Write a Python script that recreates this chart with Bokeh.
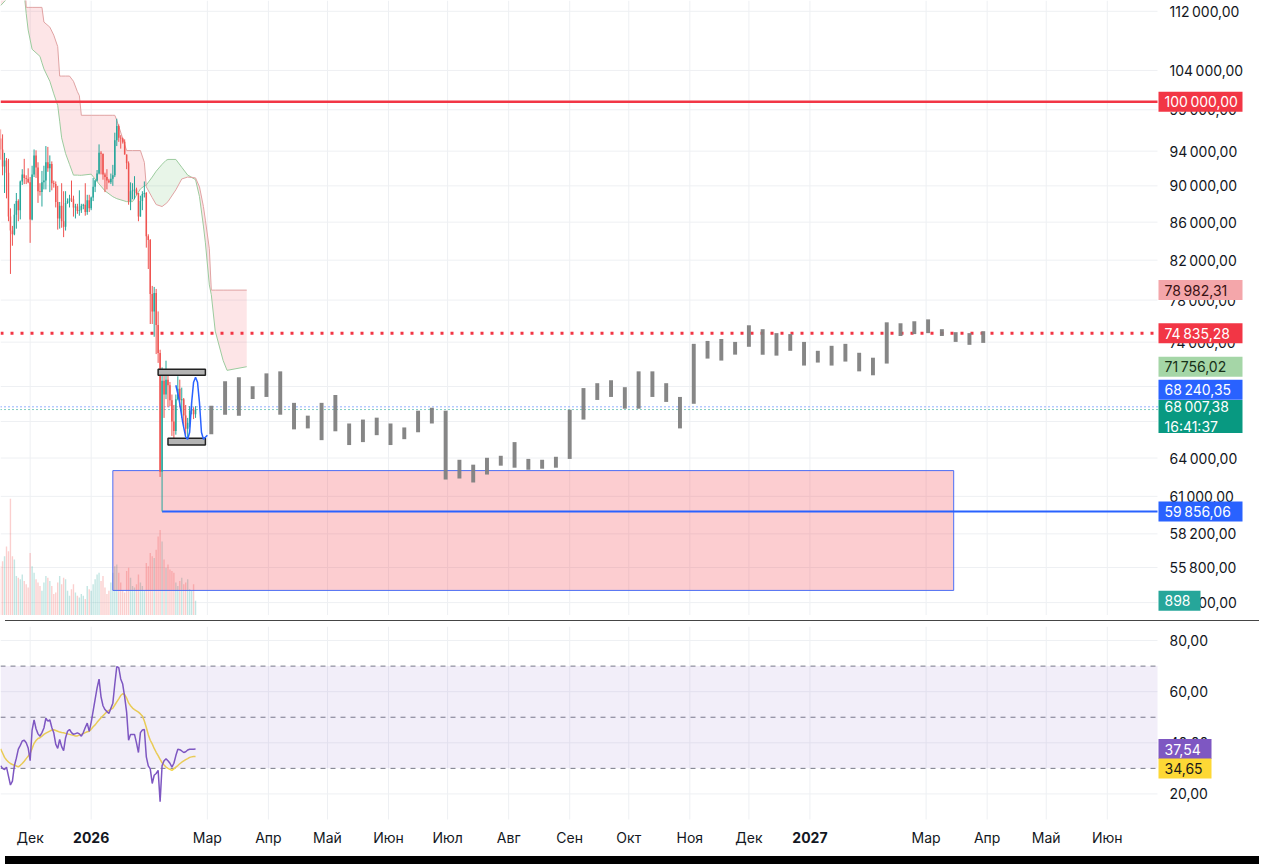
import numpy as np
import pandas as pd
from bokeh.plotting import figure
from bokeh.models import Range1d, LinearScale, BoxAnnotation, Div
from bokeh.layouts import column
from bokeh.core.properties import value
from bokeh.embed import file_html
from bokeh.resources import INLINE

ORIGIN = pd.Timestamp("2025-12-01")


def days(dates):
    if isinstance(dates, pd.DatetimeIndex):
        ts = dates
    else:
        ts = pd.to_datetime(list(dates), format="ISO8601")
    return np.asarray((ts - ORIGIN) / pd.Timedelta(days=1), dtype=float)


# ---------------- data ----------------
candle_dates = pd.date_range("2025-11-16", "2026-02-23", freq="D")
opens = [95.5, 94.2, 92.2, 92.9, 91.5, 86.6, 85.1, 84.7, 86.8, 88.3, 87.3, 90.5, 91.3, 90.9, 90.8,
         90.4, 86.3, 91.3, 93.5, 92.1, 89.4, 89.3, 90.4, 90.6, 92.7, 92.0, 92.5, 90.3, 90.2, 88.2,
         86.4, 87.8, 86.1, 85.5, 88.1, 88.3, 88.6, 88.5, 87.6, 87.7, 87.2, 87.3, 87.8, 87.9, 87.1, 88.4,
         87.5, 88.7, 89.9, 90.6, 91.4, 93.8, 93.7, 91.3, 91.0, 90.6, 90.4, 90.8, 91.2, 95.3, 97.0, 95.6,
         95.5, 95.1, 93.6, 92.6, 88.3, 89.4, 89.5, 89.6, 89.2, 86.6, 88.3, 89.1, 89.2, 84.5, 84.1,
         78.6, 76.9, 78.7, 75.6, 73.0, 62.9, 70.5, 69.3, 70.6, 70.1, 68.8, 67.0, 66.2, 68.9, 69.8, 68.8,
         68.9, 67.5, 66.4, 66.9, 67.9, 68.0, 67.6]
highs = [96.6, 96.0, 93.8, 93.2, 93.1, 87.5, 85.6, 88.0, 89.2, 88.5, 90.6, 91.9, 93.1, 91.2, 92.0,
         91.0, 92.3, 94.2, 94.1, 92.7, 90.3, 91.7, 92.3, 94.6, 94.5, 93.5, 92.8, 90.6, 90.5, 90.0,
         88.2, 90.3, 89.4, 89.4, 88.6, 89.0, 90.6, 88.9, 88.0, 88.0, 89.5, 88.0, 88.0, 90.3, 89.0, 89.0,
         88.8, 90.9, 90.7, 91.8, 94.8, 94.0, 93.7, 91.5, 91.9, 90.8, 91.4, 92.4, 96.2, 97.9, 97.2, 95.9,
         95.6, 95.4, 93.6, 92.8, 90.4, 90.3, 91.1, 89.8, 89.2, 88.9, 89.4, 90.5, 89.3, 84.7, 84.2,
         79.4, 79.3, 79.1, 76.9, 73.3, 71.7, 71.4, 72.3, 71.3, 70.4, 69.3, 68.4, 69.3, 70.9, 70.6,
         69.9, 69.0, 68.4, 67.3, 68.3, 68.7, 68.2, 68.3]
lows = [93.0, 91.2, 89.2, 88.6, 86.1, 80.6, 83.5, 84.6, 85.3, 86.1, 86.3, 90.1, 90.2, 90.2, 90.3,
        83.8, 86.2, 91.0, 90.9, 88.1, 88.9, 87.7, 89.6, 89.6, 91.6, 89.3, 89.5, 89.8, 87.6, 85.2,
        85.3, 85.4, 84.4, 85.1, 88.0, 87.6, 88.2, 86.6, 86.4, 86.9, 86.7, 87.0, 87.4, 86.7, 86.8, 87.1,
        87.3, 88.3, 89.3, 90.5, 91.3, 91.3, 90.7, 89.3, 89.6, 90.3, 90.2, 90.0, 91.0, 94.6, 95.1, 94.3,
        94.9, 93.6, 91.9, 87.9, 87.3, 88.5, 88.5, 89.0, 86.1, 86.6, 87.3, 88.7, 83.3, 81.1, 75.7,
        75.7, 74.5, 72.9, 72.1, 62.5, 59.856, 67.3, 68.9, 68.2, 68.3, 65.8, 65.1, 65.9, 68.8, 68.2,
        67.3, 66.6, 65.9, 65.6, 66.5, 67.6, 67.2, 67.3]
closes = [94.2, 92.2, 92.9, 91.5, 86.6, 85.1, 84.7, 86.8, 88.3, 87.3, 90.5, 91.3, 90.9, 90.8, 90.4,
          86.3, 91.3, 93.5, 92.1, 89.4, 89.3, 90.4, 90.6, 92.7, 92.0, 92.5, 90.3, 90.2, 88.2, 86.4,
          87.8, 86.1, 85.5, 88.1, 88.3, 88.6, 88.5, 87.6, 87.7, 87.2, 87.3, 87.8, 87.9, 87.1, 88.4, 87.5,
          88.7, 89.9, 90.6, 91.4, 93.8, 93.7, 91.3, 91.0, 90.6, 90.4, 90.8, 91.2, 95.3, 97.0, 95.6, 95.5,
          95.1, 93.6, 92.6, 88.3, 89.4, 89.5, 89.6, 89.2, 86.6, 88.3, 89.1, 89.2, 84.5, 84.1, 78.6,
          76.9, 78.7, 75.6, 73.0, 62.9, 70.5, 69.3, 70.6, 70.1, 68.8, 67.0, 66.2, 68.9, 69.8, 68.8,
          68.9, 67.5, 66.4, 66.9, 67.9, 68.0, 67.6, 68.00738]
volumes = [3000, 3300, 3600, 4200, 3900, 7100, 3600, 3400, 2400, 2300, 2200, 2500, 2100, 1900, 1700,
           3800, 3000, 2600, 2200, 2000, 1800, 1500, 2000, 2400, 2300, 2100, 1800, 1300, 1400, 2000,
           2400, 1900, 2300, 2200, 1500, 1200, 1600, 1900, 1400, 1200, 1100, 1300, 1200, 1000, 1800,
           1600, 1500, 1900, 2200, 2500, 2600, 2100, 2400, 1700, 1300, 1500, 2000, 2600, 3000, 3100,
           2600, 2000, 1500, 1400, 2700, 2900, 2300, 1800, 1700, 1900, 2500, 2000, 1800, 1500, 3200,
           3000, 3800, 3600, 3500, 4000, 4800, 5200, 4500, 3400, 2900, 3100, 2800, 2700, 2600, 2000,
           1800, 2100, 2300, 1900, 2000, 2200, 1600, 1500, 1900, 898]
rsi = [31, 30, 29.5, 30.5, 27, 23.5, 25, 31, 34, 37.5, 39, 40.7, 41, 40, 38,
       33, 45, 49, 45.5, 43.5, 42.6, 44, 45.8, 49.6, 48.5, 49, 46, 43.9, 39.5, 37.8,
       41.3, 38.5, 36.9, 42, 44.5, 45.2, 44, 43.3, 43.6, 43.9, 43.5, 42.6, 44, 46, 47.7,
       44.5, 48, 52.5, 57, 61.5, 64.9, 58, 54.5, 53, 52.2, 51.5, 53.5, 55.5, 63, 69.8,
       69.4, 65, 63, 58, 52, 41, 43.3, 43.3, 43.3, 40, 36.2, 44, 45, 45.2, 34.5,
       31, 29.8, 24.1, 27.3, 28, 29.2, 17, 31, 33, 33.7, 33, 32, 30.5, 32, 35,
       37.5, 37.3, 36.8, 36.2, 36.5, 37.2, 37.5, 37.5, 37.5, 37.54]
rsi_ma = [37.6, 36, 34.3, 33.3, 32.5, 31.9, 31.5, 31.2, 30.9, 30.6, 31.2, 31.9, 32.8, 33.8, 34.8,
          35.8, 37.8, 39.8, 40.9, 41.7, 42, 42.6, 43.3, 43.8, 44.2, 44.6, 45, 45.1, 44.8, 44.5,
          44.2, 44, 43.9, 43.7, 43.5, 43.3, 43.1, 42.9, 42.7, 42.7, 43, 43.3, 43.6, 44, 44.3,
          44.5, 45.3, 46.3, 47, 48, 48.9, 49.8, 50.6, 51.4, 52.2, 52.7, 53.1, 53.6, 54.8, 56,
          57.2, 58.5, 59.2, 58.9, 57.5, 55.6, 54.5, 53.6, 53, 52.5, 52, 51.3, 50.5, 48.5, 46,
          43.2, 41, 39.6, 37.8, 36.3, 35, 33.5, 32.2, 31.3, 30.5, 30, 29.6, 29.2, 29.8, 30.5,
          31.1, 31.8, 32.4, 32.9, 33.4, 33.8, 34.3, 34.5, 34.6, 34.65]

# Ichimoku cloud (leading spans, thousand USD)
cloud_dates = ["2025-11-16", "2025-11-20", "2025-11-28", "2025-11-29", "2025-11-30", "2025-12-02",
               "2025-12-06", "2025-12-07", "2025-12-08", "2025-12-11", "2025-12-13", "2025-12-15",
               "2025-12-16", "2025-12-17", "2025-12-19", "2025-12-21", "2025-12-23", "2025-12-25",
               "2025-12-26", "2025-12-27", "2026-01-01", "2026-01-05", "2026-01-08", "2026-01-12",
               "2026-01-13", "2026-01-14", "2026-01-19", "2026-01-22", "2026-01-26", "2026-01-28",
               "2026-01-29", "2026-02-01", "2026-02-03", "2026-02-06", "2026-02-08", "2026-02-09",
               "2026-02-13", "2026-02-16", "2026-02-19", "2026-02-23", "2026-02-25", "2026-02-27",
               "2026-02-28", "2026-03-02", "2026-03-03", "2026-03-05", "2026-03-09", "2026-03-11",
               "2026-03-21"]
span_a = [112.8, 114.0, 114.5, 111.7, 109.4, 106.8, 105.85, 105.0, 104.2, 102.6, 101.0, 99.54,
          97.6, 95.58, 93.72, 92.46, 91.22, 91.22, 91.2, 91.2, 91.33, 90.22, 89.44, 88.79,
          88.68, 88.57, 88.24, 88.24, 89.66, 89.99, 90.1, 91.0, 91.67, 92.46, 92.92, 93.03,
          93.03, 92.12, 91.22, 90.7, 88.79, 85.58, 83.80, 79.50, 78.53, 75.03, 72.32, 71.43,
          71.75602]
span_b = [119, 119, 119, 112.55, 112.55, 112.55, 112.55, 112.55, 110.5, 109.8, 108.7, 107.15,
          103.27, 103.27, 103.27, 103.27, 102.6, 101.27, 100.76, 98.32, 98.32, 98.32, 98.32, 98.32,
          98.32, 97.72, 94.07, 94.07, 94.07, 92.69, 89.89, 88.68, 87.92, 87.70, 88.03, 88.24,
          89.55, 90.78, 91.0, 90.9, 89.89, 87.70, 86.21, 83.18, 78.98231, 78.98231, 78.98231,
          78.98231, 78.98231]

# projected weekly bars pattern (thousand USD)
pattern_start = "2026-03-03"
pattern_high = [68.33, 70.46, 70.81, 70.03, 71.16, 71.34, 68.58, 67.49, 68.58, 69.26, 66.83, 67.16,
                67.32, 66.83, 66.50, 67.91, 68.16, 67.91, 63.86, 63.47, 64.02, 64.18, 65.29, 63.93,
                63.86, 64.10, 67.99, 69.86, 70.29, 70.55, 69.94, 71.34, 71.34, 70.29, 69.09, 73.84,
                74.11, 74.29, 74.02, 75.58, 75.21, 74.84, 74.75, 74.02, 73.20, 73.66, 73.84, 73.02,
                72.57, 75.86, 75.77, 75.96, 76.14, 75.21, 74.93, 74.84, 75.02]
pattern_low = [65.94, 67.57, 67.49, 68.92, 69.09, 67.57, 66.34, 66.42, 65.45, 66.18, 65.05, 65.29,
               65.86, 65.05, 65.53, 66.10, 66.83, 62.30, 62.38, 62.07, 62.69, 63.39, 63.23, 63.07,
               63.15, 63.23, 63.93, 67.16, 68.83, 69.09, 68.08, 68.08, 69.09, 68.66, 66.42, 68.50,
               72.49, 72.31, 72.85, 73.57, 72.84, 72.76, 73.20, 71.86, 72.13, 71.86, 72.22, 71.34,
               70.99, 72.04, 74.57, 74.75, 74.84, 74.57, 74.02, 73.75, 73.93]

# drawings
zone_start, zone_end, zone_top, zone_bottom = "2026-01-12", "2027-03-15", 63000, 54220
range_box_start = ["2026-02-04", "2026-02-09"]
range_box_end = ["2026-02-28", "2026-02-28"]
range_box_top = [71520, 65610]
range_box_bottom = [70990, 65050]
curve_dates = ["2026-02-13", "2026-02-14 12:00", "2026-02-16 12:00", "2026-02-18", "2026-02-19",
               "2026-02-20", "2026-02-21", "2026-02-22", "2026-02-23", "2026-02-24", "2026-02-25",
               "2026-02-26", "2026-02-27", "2026-03-01"]
curve_prices = [70110, 69000, 66910, 65700, 65530, 66100, 68580, 70380, 70810, 70380, 68580,
                66100, 65530, 65860]
level_round = 100000.00
level_red = 74835.28
level_blue = 68240.35
last_price = 68007.38
low_price = 59856.06
low_date = "2026-02-06"
countdown = "16:41:37"

price_ticks = [53400, 55800, 58200, 61000, 64000, 67000, 70000, 74000, 78000, 82000, 86000,
               90000, 94000, 99000, 104000, 112000]
rsi_ticks = [20, 40, 60, 80]
rsi_levels = [70, 50, 30]
month_dates = ["2025-12-01", "2026-01-01", "2026-03-01", "2026-04-01", "2026-05-01", "2026-06-01",
               "2026-07-01", "2026-08-01", "2026-09-01", "2026-10-01", "2026-11-01", "2026-12-01",
               "2027-01-01", "2027-03-01", "2027-04-01", "2027-05-01", "2027-06-01"]
month_labels = ["Дек", "2026", "Мар", "Апр", "Май", "Июн", "Июл", "Авг", "Сен", "Окт", "Ноя",
                "Дек", "2027", "Мар", "Апр", "Май", "Июн"]


def fmt(v, nd=2):
    s = f"{v:,.{nd}f}"
    return s.replace(",", "\u202f").replace(".", ",")


# ---------------- layout constants ----------------
W = 1254
H_TOP = 615
H_RSI = 193          # RSI plotting area
H_XLAB = 32          # time labels strip below the RSI area
AXIS_W = 97          # price scale strip on the right
MAIN_W = W - AXIS_W
X0, X1 = -15.05, 572.5
PPD = MAIN_W / (X1 - X0)               # px per day
XE = X0 + W / PPD                      # right edge of the canvas in days
Y0, Y1 = 52543.0, 113524.0
PPL = H_TOP / np.log(Y1 / Y0)          # px per ln-unit (price pane)
R0, R1 = 10.0, 85.5
PPR = H_RSI / (R1 - R0)                # px per RSI unit
RB = R0 - H_XLAB / PPR
FONT = value("Inter")
TXT = "#131722"
GRID = "#eef0f3"
TAG_H = 20


def px_to_days(px):
    return px / PPD


def shift_price(v, px):
    return v * np.exp(px / PPL)


xc = days(candle_dates)
o = np.array(opens) * 1000
h = np.array(highs) * 1000
l = np.array(lows) * 1000
c = np.array(closes) * 1000
up = c >= o
month_x = days(month_dates)

p = figure(width=W, height=H_TOP, x_range=Range1d(X0, XE), y_range=Range1d(Y0, Y1),
           y_axis_type="log", x_axis_location=None, y_axis_location=None,
           output_backend="svg", toolbar_location=None,
           min_border_left=0, min_border_right=0, min_border_top=0, min_border_bottom=0)
p.outline_line_color = None
p.background_fill_color = "#ffffff"
p.border_fill_color = "#ffffff"
p.grid.visible = False

# grid
p.segment(x0=month_x, x1=month_x, y0=Y0, y1=Y1, line_color=GRID, line_width=1)
p.segment(x0=X0, x1=X1, y0=price_ticks, y1=price_ticks, line_color=GRID, line_width=1)

# volume overlay
p.extra_y_ranges = {"vol": Range1d(0, 37400)}
p.extra_y_scales = {"vol": LinearScale()}
vol_colors = np.where(up, "#26a69a", "#ef5350")
p.vbar(x=xc, top=volumes, bottom=0, width=0.7, y_range_name="vol",
       fill_color=vol_colors, line_color=None, fill_alpha=0.28)

# ichimoku cloud
xcl = days(cloud_dates)
A = np.array(span_a) * 1000
B = np.array(span_b) * 1000
top = np.maximum(A, B)
p.varea(x=xcl, y1=A, y2=top, fill_color="#f23645", fill_alpha=0.13)
p.varea(x=xcl, y1=B, y2=top, fill_color="#4caf50", fill_alpha=0.13)
p.line(xcl, A, line_color="#9ccb9e", line_width=1)
p.line(xcl, B, line_color="#e0a3a3", line_width=1)

# zone rectangle
p.quad(left=days([zone_start]), right=days([zone_end]), top=[zone_top], bottom=[zone_bottom],
       fill_color="#f23645", fill_alpha=0.25, line_color="#4c6ef5", line_width=1)

# horizontal levels
p.segment(x0=X0, x1=X1, y0=level_round, y1=level_round, line_color="#f23645", line_width=2.5)
p.segment(x0=X0, x1=X1, y0=level_red, y1=level_red, line_color="#f23645", line_width=3,
          line_dash="3 7")
p.segment(x0=X0, x1=X1, y0=level_blue, y1=level_blue, line_color="#2962ff", line_width=1,
          line_dash="1 3")
p.segment(x0=X0, x1=X1, y0=last_price, y1=last_price, line_color="#089981", line_width=1,
          line_dash="1 3")
p.segment(x0=days([low_date]), x1=X1, y0=low_price, y1=low_price, line_color="#2962ff",
          line_width=2)

# candles
p.segment(x0=xc, x1=xc, y0=l, y1=h, line_color=np.where(up, "#26a69a", "#ef5350"), line_width=1)
p.vbar(x=xc, top=np.maximum(o, c), bottom=np.minimum(o, c), width=0.75,
       fill_color=np.where(up, "#26a69a", "#ef5350"), line_color=None)

# projected bars pattern
xp = days(pd.date_range(pattern_start, periods=len(pattern_high), freq="7D"))
p.vbar(x=xp, top=np.array(pattern_high) * 1000, bottom=np.array(pattern_low) * 1000, width=2.0,
       fill_color="#7f7f7f", line_color=None, fill_alpha=0.95)

# range boxes and curve drawing
p.quad(left=days(range_box_start), right=days(range_box_end), top=range_box_top,
       bottom=range_box_bottom, fill_color="#b4b4b4", line_color="#222222", line_width=1.5)
p.line(days(curve_dates), curve_prices, line_color="#2962ff", line_width=1.5)

# price scale (right strip)
p.text(x=X1, y=price_ticks, text=[fmt(t) for t in price_ticks], x_offset=12,
       text_align="left", text_baseline="middle", text_font=FONT, text_font_size="14px",
       text_color=TXT)


def tag(fig, y, lines, bg, fg, width=84, height=TAG_H, y_range_name="default"):
    fig.rect(x=X1 + px_to_days(1 + width / 2), y=y, width=width, height=height,
             width_units="screen", height_units="screen", fill_color=bg, line_color=None,
             y_range_name=y_range_name)
    fig.text(x=X1, y=y, text=[lines], x_offset=7, text_align="left", text_baseline="middle",
             text_font=FONT, text_font_size="14px", text_color=fg, text_line_height=1.15,
             y_range_name=y_range_name)


tag(p, level_round, fmt(level_round), "#f23645", "#ffffff")
tag(p, B[-1], fmt(B[-1]), "#f4a6aa", "#3a1214")
tag(p, level_red, fmt(level_red), "#f23645", "#ffffff")
tag(p, A[-1], fmt(A[-1]), "#a5d6a7", "#163018")
tag(p, shift_price(level_blue, 17), fmt(level_blue), "#2962ff", "#ffffff")
tag(p, shift_price(last_price, -7), fmt(last_price) + "\n" + countdown, "#089981", "#ffffff",
    height=33)
tag(p, low_price, fmt(low_price), "#2962ff", "#ffffff")
tag(p, volumes[-1], str(volumes[-1]), "#26a69a", "#ffffff", width=42, y_range_name="vol")

# ---------------- RSI pane ----------------
r = figure(width=W, height=H_RSI + H_XLAB, x_range=p.x_range, y_range=Range1d(RB, R1),
           x_axis_location=None, y_axis_location=None, output_backend="svg",
           toolbar_location=None, min_border_left=0, min_border_right=0, min_border_top=0,
           min_border_bottom=0)
r.outline_line_color = None
r.background_fill_color = "#ffffff"
r.border_fill_color = "#ffffff"
r.grid.visible = False
r.segment(x0=month_x, x1=month_x, y0=R0, y1=R1, line_color=GRID, line_width=1)
r.segment(x0=X0, x1=X1, y0=rsi_ticks, y1=rsi_ticks, line_color=GRID, line_width=1)
r.add_layout(BoxAnnotation(left=X0, right=X1, bottom=30, top=70, fill_color="#7e57c2",
                           fill_alpha=0.1, line_color=None))
r.segment(x0=X0, x1=X1, y0=rsi_levels, y1=rsi_levels, line_color="#787b86", line_width=1,
          line_dash="5 5")
r.line(xc, rsi_ma, line_color="#f5d84a", line_width=1.5)
r.line(xc, rsi, line_color="#7e57c2", line_width=1.5)

r.text(x=X1, y=rsi_ticks, text=[fmt(t) for t in rsi_ticks], x_offset=12, text_align="left",
       text_baseline="middle", text_font=FONT, text_font_size="14px", text_color=TXT)

label_y = R0 - 17.5 / PPR
is_year = [lab.isdigit() for lab in month_labels]
r.text(x=[x for x, y in zip(month_x, is_year) if not y], y=label_y,
       text=[t for t, y in zip(month_labels, is_year) if not y], text_align="center",
       text_baseline="middle", text_font=FONT, text_font_size="14px", text_color=TXT)
r.text(x=[x for x, y in zip(month_x, is_year) if y], y=label_y,
       text=[t for t, y in zip(month_labels, is_year) if y], text_align="center",
       text_baseline="middle", text_font=FONT, text_font_size="14px",
       text_font_style=value("bold"), text_color=TXT)

tag(r, rsi[-1], fmt(rsi[-1]), "#7e57c2", "#ffffff", width=53)
tag(r, rsi_ma[-1] - 12 / PPR, fmt(rsi_ma[-1]), "#fdd835", "#1a1a1a", width=53)

sep = Div(text="", width=W, height=1, styles={"background-color": "#454545"})
strip = Div(text="", width=W, height=8, styles={"background-color": "#000000"})

layout = column(p, sep, r, strip, spacing=0)
open("out.html", "w").write(file_html(layout, INLINE))
